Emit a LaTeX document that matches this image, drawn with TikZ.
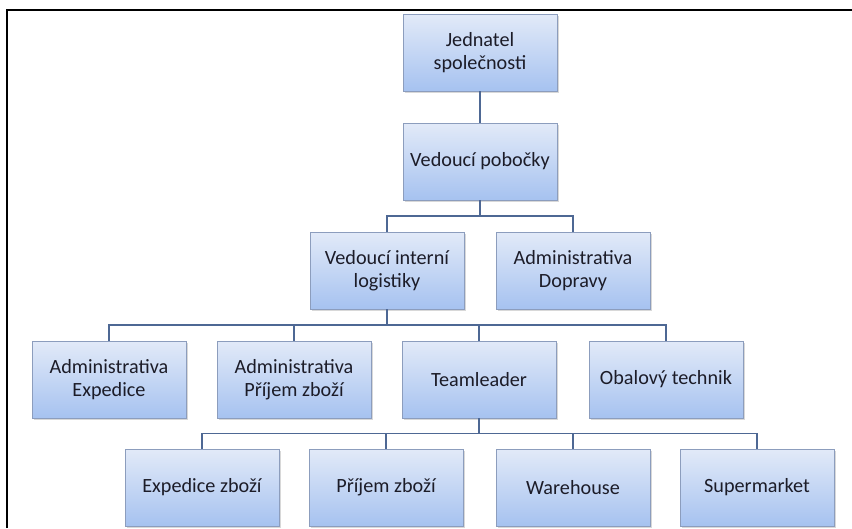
\documentclass[tikz,border=0pt]{standalone}
\usepackage{fontspec}
\setmainfont{Carlito}
\usepackage{tikz}
\usetikzlibrary{shadows}
\definecolor{boxtop}{HTML}{E2EAF8}
\definecolor{boxbot}{HTML}{A6C2F0}
\definecolor{boxline}{HTML}{8C9DBD}
\definecolor{conncol}{HTML}{4E6894}
\definecolor{txtcol}{HTML}{1C1C28}
\tikzset{orgbox/.style={rectangle, draw=boxline, line width=0.5pt, top color=boxtop, bottom color=boxbot, minimum width=3.08cm, minimum height=1.54cm, inner sep=2pt, align=center, text=txtcol, font=\fontsize{11.5}{13}\selectfont, drop shadow={shadow xshift=1.2pt, shadow yshift=-1.2pt, opacity=0.3}}, conn/.style={draw=conncol, line width=1.1pt}}

\begin{document}
\begin{tikzpicture}[x=0.02cm, y=-0.02cm]
                 \useasboundingbox (0,0) rectangle (852,528);
                 \fill[white] (0,0) rectangle (852,528);
                 % frame
                 \draw[line width=0.9pt] (7,528)--(7,10)--(852,10);

                 % connectors first, boxes go over them
                 \coordinate (bus1) at (0,216);
                 \coordinate (bus2) at (0,325);
                 \coordinate (bus3) at (0,433.5);

                 % top
                 \node[orgbox] (jed) at (480,52.5) {Jednatel\\společnosti};
                 \node[orgbox] (vp) at (480,161.5) {Vedoucí pobočky};
                 \node[orgbox] (vil) at (387,270.5) {Vedoucí interní\\logistiky};
                 \node[orgbox] (adop) at (573,270.5) {Administrativa\\Dopravy};

                 % third row
                 \node[orgbox] (aexp) at (109,379.5) {Administrativa\\Expedice};
                 \node[orgbox] (aprij) at (294,379.5) {Administrativa\\Příjem zboží};
                 \node[orgbox] (team) at (479,379.5) {Teamleader};
                 \node[orgbox] (obal) at (666,379.5) {Obalový technik};

                 % bottom row
                 \node[orgbox] (expz) at (202,487.5) {Expedice zboží};
                 \node[orgbox] (prijz) at (386,487.5) {Příjem zboží};
                 \node[orgbox] (wh) at (573,487.5) {Warehouse};
                 \node[orgbox] (sm) at (757,487.5) {Supermarket};

                 \draw[conn] (jed)--(vp);
                 \draw[conn] (vp.south)--(vp.south |- bus1);
                 \draw[conn] (vil.north)--(vil.north |- bus1)-|(adop.north);

                 \draw[conn] (vil.south)--(vil.south |- bus2);
                 \draw[conn] (aexp.north)--(aexp.north |- bus2)-|(obal.north);
                 \draw[conn] (aprij.north)--(aprij.north |- bus2);
                 \draw[conn] (team.north)--(team.north |- bus2);

                 \draw[conn] (team.south)--(team.south |- bus3);
                 \draw[conn] (expz.north)--(expz.north |- bus3)-|(sm.north);
                 \draw[conn] (prijz.north)--(prijz.north |- bus3);
                 \draw[conn] (wh.north)--(wh.north |- bus3);
             \end{tikzpicture}
\end{document}
